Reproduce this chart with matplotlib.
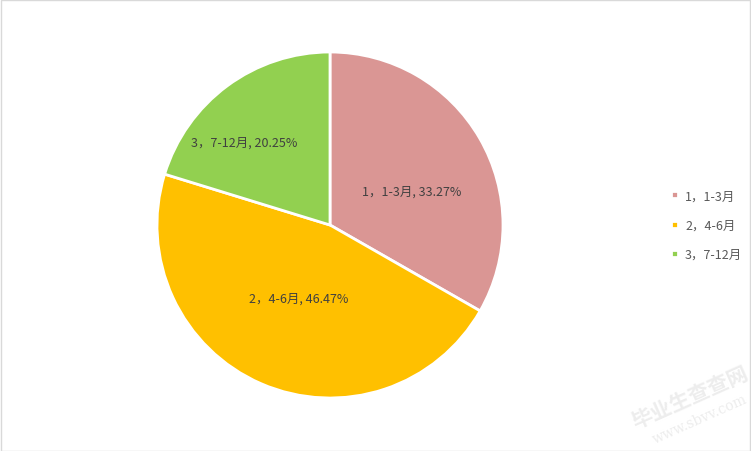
import matplotlib
matplotlib.use('Agg')
import matplotlib.pyplot as plt
import numpy as np

plt.rcParams['font.family'] = ['Noto Sans CJK SC', 'DejaVu Sans']

# Data
labels = ['1，1-3月', '2，4-6月', '3，7-12月']
shares = [33.27, 46.47, 20.25]
colors = ['#DA9694', '#FFC000', '#92D050']
# data-label placement inside each slice (fraction of radius, angle shift in degrees)
label_dist = [0.51, 0.46, 0.69]
label_shift = [-7.6, 0.0, 9.3]

fig = plt.figure(figsize=(7.51, 4.52), dpi=100)
fig.patch.set_facecolor('white')

# Pie area: centre ~ (330, 226), radius ~173 px
r_px = 173
cx, cy = 330, 226
W, H = 751, 452
ax = fig.add_axes([(cx - r_px) / W, 1 - (cy + r_px) / H, 2 * r_px / W, 2 * r_px / H])
ax.set_aspect('equal')

wedges, _ = ax.pie(shares, colors=colors, startangle=90, counterclock=False,
                   wedgeprops=dict(edgecolor='white', linewidth=2), radius=1)
ax.set_xlim(-1, 1)
ax.set_ylim(-1, 1)

for w, lab, val, d, s in zip(wedges, labels, shares, label_dist, label_shift):
    mid = np.deg2rad((w.theta1 + w.theta2) / 2 + s)
    ax.text(d * np.cos(mid), d * np.sin(mid), f'{lab}, {val:.2f}%',
            ha='center', va='center', fontsize=9, color='#404040')

# Legend
leg = fig.legend(wedges, labels, loc='center left', bbox_to_anchor=(660 / W, 1 - 226 / H),
                 frameon=False, fontsize=9, handlelength=0.5, handleheight=0.5,
                 handletextpad=0.6, labelspacing=1.3, labelcolor='#595959')

# Watermark
fig.text(690 / W, 1 - 398 / H, '毕业生查查网', fontsize=15, color='#EDEDED',
         rotation=24, ha='center', va='center', fontweight='bold')
fig.text(700 / W, 1 - 420 / H, 'www.sbvv.com', fontsize=10, color='#EDEDED',
         rotation=24, ha='center', va='center', family='DejaVu Serif')

# Chart border
fig.add_artist(plt.Rectangle((0.5 / W, 0.5 / H), 1 - 1.5 / W, 1 - 1.5 / H,
                             transform=fig.transFigure, fill=False,
                             edgecolor='#D9D9D9', linewidth=1))

fig.savefig('out.png', dpi=100, facecolor='white')
